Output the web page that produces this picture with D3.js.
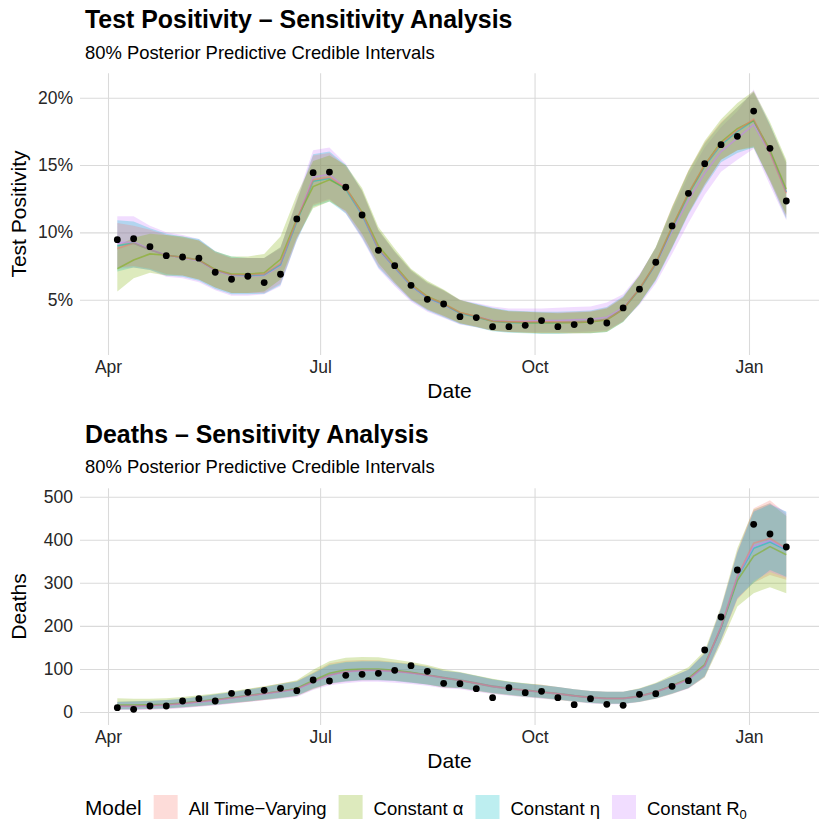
<!DOCTYPE html>
<html><head><meta charset="utf-8">
<script src="https://cdn.jsdelivr.net/npm/d3@7"></script>
<style>
body{margin:0;background:#fff;}
svg{font-family:"Liberation Sans",Arial,Helvetica,sans-serif;}
</style></head><body>
<svg id="chart" width="830" height="830"></svg>
<script>
// ---------------- DATA ----------------
const dates = ["2020-04-05","2020-04-12","2020-04-19","2020-04-26","2020-05-03","2020-05-10","2020-05-17","2020-05-24","2020-05-31","2020-06-07","2020-06-14","2020-06-21","2020-06-28","2020-07-05","2020-07-12","2020-07-19","2020-07-26","2020-08-02","2020-08-09","2020-08-16","2020-08-23","2020-08-30","2020-09-06","2020-09-13","2020-09-20","2020-09-27","2020-10-04","2020-10-11","2020-10-18","2020-10-25","2020-11-01","2020-11-08","2020-11-15","2020-11-22","2020-11-29","2020-12-06","2020-12-13","2020-12-20","2020-12-27","2021-01-03","2021-01-10","2021-01-17"];
const models = ["All Time-Varying","Constant α","Constant η","Constant R0"];
const modelColors = ["#F8766D","#7CAE00","#00BFC4","#C77CFF"];
const xTickDates = ["2020-04-01","2020-07-01","2020-10-01","2021-01-01"];
const tpTicks = [5,10,15,20];
const deathTicks = [0,100,200,300,400,500];

// Test positivity (%)
const tpObserved = [9.46,9.53,8.94,8.27,8.17,8.08,7.04,6.52,6.74,6.27,6.89,11.0,14.43,14.48,13.35,11.29,8.67,7.53,6.07,5.03,4.68,3.74,3.67,3.0,3.0,3.10,3.45,3.0,3.15,3.42,3.27,4.39,5.78,7.78,10.48,12.9,15.1,16.51,17.13,19.01,16.24,12.33];
const tpMedAll = [8.8,9.2,8.7,8.3,8.15,7.95,7.2,6.85,6.85,6.9,7.7,10.9,13.9,14.1,13.3,11.4,8.8,7.45,6.1,5.2,4.7,4.05,3.75,3.4,3.35,3.35,3.35,3.35,3.35,3.4,3.55,4.3,5.8,7.7,10.4,12.9,15.0,16.6,17.6,18.4,15.9,12.9];
const tpLoAll  = [7.4,7.5,7.3,6.9,6.8,6.5,5.9,5.5,5.5,5.5,6.2,9.5,12.0,12.4,11.5,9.7,7.5,6.2,5.0,4.25,3.75,3.25,3.0,2.7,2.6,2.55,2.5,2.5,2.5,2.55,2.65,3.4,4.75,6.5,8.9,11.4,13.5,15.4,16.1,16.4,13.8,11.1];
const tpHiAll  = [10.7,10.5,10.2,9.8,9.6,9.4,8.5,8.1,8.1,8.1,8.9,12.3,15.7,15.9,14.9,13.1,10.2,8.6,7.2,6.3,5.7,4.95,4.65,4.35,4.15,4.1,4.05,4.05,4.1,4.15,4.4,5.2,6.8,8.9,11.9,14.6,16.7,18.2,19.3,20.4,17.9,15.2];
const tpMedAlpha = [7.3,7.95,8.4,8.3,8.15,7.95,7.25,6.9,6.9,7.0,8.0,11.0,13.4,13.9,13.3,11.5,9.0,7.55,6.15,5.25,4.7,4.05,3.75,3.4,3.35,3.3,3.3,3.3,3.3,3.35,3.5,4.3,5.8,7.7,10.4,12.9,15.0,16.7,17.7,18.3,16.1,13.2];
const tpLoAlpha  = [5.6,6.6,7.0,6.8,6.8,6.5,5.9,5.5,5.5,5.6,6.5,9.6,11.8,12.3,11.6,9.9,7.7,6.3,5.05,4.3,3.8,3.25,3.0,2.7,2.6,2.55,2.5,2.5,2.5,2.5,2.6,3.35,4.7,6.5,8.9,11.4,13.6,15.4,16.1,16.3,13.9,11.3];
const tpHiAlpha  = [9.0,9.6,9.9,9.8,9.7,9.4,8.6,8.2,8.2,8.4,9.7,12.8,15.3,15.7,15.0,13.3,10.4,8.8,7.3,6.4,5.75,5.0,4.65,4.35,4.15,4.1,4.05,4.0,4.05,4.1,4.35,5.15,6.8,8.9,11.9,14.6,16.8,18.4,19.6,20.5,18.2,15.4];
const tpMedEta = [9.0,9.2,8.7,8.3,8.15,7.95,7.2,6.85,6.8,6.85,7.6,10.8,13.8,14.0,13.2,11.3,8.75,7.4,6.05,5.15,4.65,4.0,3.7,3.4,3.3,3.3,3.3,3.3,3.35,3.4,3.55,4.3,5.75,7.65,10.3,12.8,14.9,16.5,17.5,18.3,16.0,13.0];
const tpLoEta  = [7.1,7.4,7.2,6.8,6.7,6.4,5.8,5.4,5.4,5.45,6.1,9.4,11.9,12.3,11.4,9.6,7.4,6.15,4.95,4.2,3.7,3.2,2.95,2.65,2.55,2.5,2.45,2.45,2.5,2.5,2.6,3.35,4.7,6.4,8.8,11.3,13.4,15.2,15.9,16.3,13.8,11.0];
const tpHiEta  = [10.9,10.8,10.3,9.9,9.7,9.5,8.6,8.2,8.1,8.1,8.9,12.3,15.8,16.0,15.0,13.1,10.2,8.6,7.2,6.3,5.7,4.95,4.7,4.4,4.2,4.15,4.1,4.1,4.15,4.2,4.45,5.25,6.8,8.9,11.8,14.5,16.6,18.1,19.3,20.4,18.0,15.2];
const tpMedR0 = [9.2,9.3,8.75,8.3,8.1,7.9,7.15,6.8,6.75,6.8,7.5,10.9,14.1,14.3,13.3,11.3,8.7,7.35,6.0,5.1,4.6,4.0,3.75,3.45,3.4,3.4,3.45,3.45,3.5,3.55,3.7,4.4,5.8,7.6,10.1,12.4,14.4,16.0,17.0,18.0,15.9,13.0];
const tpLoR0  = [7.3,7.4,7.2,6.7,6.6,6.3,5.7,5.3,5.3,5.4,6.0,9.4,12.1,12.5,11.4,9.5,7.3,6.0,4.85,4.1,3.65,3.15,2.95,2.7,2.6,2.6,2.6,2.6,2.6,2.65,2.75,3.4,4.6,6.2,8.4,10.7,12.8,14.5,15.4,16.2,13.5,10.9];
const tpHiR0  = [11.2,11.2,10.5,10.0,9.8,9.5,8.6,8.1,8.1,8.1,8.8,12.5,16.1,16.3,15.1,13.0,10.1,8.5,7.1,6.2,5.65,5.0,4.75,4.5,4.35,4.35,4.35,4.4,4.45,4.5,4.8,5.4,6.9,8.8,11.6,14.2,16.3,17.8,19.0,20.6,18.0,15.0];

// Deaths
const deathObserved = [10.1,6.2,13.9,13.9,25.5,31.0,25.5,43.4,45.7,50.3,55.0,49.5,74.3,72.0,85.2,87.5,89.8,96.8,107.6,94.4,66.6,65.8,54.2,33.3,56.5,44.9,48.0,33.3,17.0,31.0,17.8,15.5,41.0,42.6,59.6,72.8,144,220.6,329.8,435.8,413.4,383.2];
const dMedAll = [14,14,15,17,20,24,28,33,38,43,48,54,70,86,94,97,97,95,91,86,80,74,67,60,55,51,47,43,38,34,32,32,37,47,61,76,108,198,315,392,403,380];
const dLoAll  = [5,5,6,7,10,13,16,20,24,28,33,37,54,65,70,73,74,72,68,64,57,56,50,44,40,36,33,29,25,21,19,19,24,32,43,55,82,167,262,300,318,307];
const dHiAll  = [24,25,26,28,31,36,41,46,53,59,66,72,92,113,119,121,120,116,112,106,96,92,84,76,70,66,63,58,53,49,47,47,54,66,82,98,137,241,372,473,492,460];
const dMedAlpha = [16,16,17,18,21,25,29,33,38,43,48,55,73,90,98,100,100,97,92,86,79,73,66,59,54,50,46,42,37,33,31,31,36,46,61,78,110,195,305,362,384,365];
const dLoAlpha  = [7,7,8,9,11,14,17,21,24,28,32,37,53,66,72,75,75,73,69,64,57,55,49,43,39,35,32,28,24,21,19,19,23,31,42,55,80,159,245,276,290,276];
const dHiAlpha  = [32,31,31,32,35,39,43,48,54,60,66,74,98,118,126,128,127,122,116,109,99,93,85,77,71,67,63,58,53,49,47,47,55,68,86,104,142,245,380,470,485,455];
const dMedEta = [14,14,15,17,20,24,28,33,38,43,48,54,70,86,94,97,97,95,91,86,80,74,67,60,55,51,47,43,38,34,32,32,37,47,61,76,107,196,312,380,395,376];
const dLoEta  = [6,6,7,8,11,14,17,21,25,29,33,38,55,66,71,74,74,72,68,64,58,56,50,44,40,36,33,29,25,21,19,19,24,32,43,56,83,168,265,300,330,314];
const dHiEta  = [24,25,26,28,31,36,41,46,52,58,65,71,90,110,116,118,118,115,111,105,96,92,84,76,70,66,62,58,53,49,47,47,54,66,82,98,136,240,370,465,482,465];
const dMedR0 = [13,13,14,16,19,23,27,32,37,42,47,53,69,85,93,96,96,94,90,85,79,73,66,59,54,50,46,42,37,33,31,31,36,46,60,75,106,197,314,385,398,378];
const dLoR0  = [5,5,6,7,9,12,15,19,23,27,31,35,51,62,67,70,70,68,65,61,55,53,47,42,38,34,31,28,24,20,18,18,23,31,42,54,81,166,262,305,325,312];
const dHiR0  = [23,24,25,27,30,35,40,45,51,57,64,70,89,108,115,117,117,114,110,104,95,91,83,75,69,65,62,58,53,49,47,47,54,66,82,98,136,242,372,468,485,465];

// ---------------- BUILD ----------------
const parse = d3.utcParse("%Y-%m-%d");
const dateObjs = dates.map(parse);
const tickDateObjs = xTickDates.map(parse);

const tpBands = [
  {med: tpMedAll, lo: tpLoAll, hi: tpHiAll},
  {med: tpMedAlpha, lo: tpLoAlpha, hi: tpHiAlpha},
  {med: tpMedEta, lo: tpLoEta, hi: tpHiEta},
  {med: tpMedR0, lo: tpLoR0, hi: tpHiR0}
];
const dBands = [
  {med: dMedAll, lo: dLoAll, hi: dHiAll},
  {med: dMedAlpha, lo: dLoAlpha, hi: dHiAlpha},
  {med: dMedEta, lo: dLoEta, hi: dHiEta},
  {med: dMedR0, lo: dLoR0, hi: dHiR0}
];

const svg = d3.select("#chart");
const panelLeft = 80, panelRight = 819;
const x = d3.scaleUtc().domain([tickDateObjs[0], tickDateObjs[3]]).range([108, 749]);

const FILL_ALPHA = 0.26;
const gridColor = "#DADADA";
const tickColor = "#262626";

const panels = [
  {
    title: "Test Positivity \u2013 Sensitivity Analysis",
    titleY: 27.5, subY: 58.5,
    top: 73.3, bottom: 355,
    y: d3.scaleLinear().domain([5, 20]).range([299.7, 97.7]),
    yTicks: tpTicks, fmt: d => d + "%",
    yTitle: "Test Positivity", yTitleY: 214,
    xTitleY: 398,
    obs: tpObserved, bands: tpBands,
    order: [3, 2, 0, 1],
    lineOrder: [3, 2, 1, 0]
  },
  {
    title: "Deaths \u2013 Sensitivity Analysis",
    titleY: 443.3, subY: 472.7,
    top: 488.3, bottom: 725,
    y: d3.scaleLinear().domain([0, 500]).range([712, 496.7]),
    yTicks: deathTicks, fmt: d => String(d),
    yTitle: "Deaths", yTitleY: 606.5,
    xTitleY: 768,
    obs: deathObserved, bands: dBands,
    order: [0, 1, 3, 2],
    lineOrder: [1, 2, 3, 0]
  }
];

panels.forEach(p => {
  const g = svg.append("g");
  // titles
  g.append("text").attr("x", 85).attr("y", p.titleY)
    .attr("font-size", 24.9).attr("font-weight", "bold").attr("fill", "#000").text(p.title);
  g.append("text").attr("x", 85).attr("y", p.subY)
    .attr("font-size", 18.4).attr("fill", "#000").text("80% Posterior Predictive Credible Intervals");

  // y axis with gridlines
  const yAxis = d3.axisLeft(p.y).tickValues(p.yTicks).tickFormat(p.fmt)
    .tickSize(-(panelRight - panelLeft)).tickPadding(7);
  const ya = g.append("g").attr("transform", `translate(${panelLeft},0)`).call(yAxis);
  ya.select(".domain").remove();
  ya.selectAll("line").attr("stroke", gridColor).attr("stroke-width", 1.07);
  ya.selectAll("text").attr("font-size", 17.5).attr("fill", tickColor)
    .attr("font-family", "Liberation Sans, Arial, sans-serif");

  // x axis with gridlines
  const xAxis = d3.axisBottom(x).tickValues(tickDateObjs).tickFormat(d3.utcFormat("%b"))
    .tickSize(-(p.bottom - p.top)).tickPadding(6);
  const xa = g.append("g").attr("transform", `translate(0,${p.bottom})`).call(xAxis);
  xa.select(".domain").remove();
  xa.selectAll("line").attr("stroke", gridColor).attr("stroke-width", 1.07);
  xa.selectAll("text").attr("font-size", 17.5).attr("fill", tickColor)
    .attr("font-family", "Liberation Sans, Arial, sans-serif");

  // axis titles
  g.append("text").attr("x", (panelLeft + panelRight) / 2).attr("y", p.xTitleY)
    .attr("text-anchor", "middle").attr("font-size", 21).attr("fill", "#000").text("Date");
  g.append("text").attr("transform", `translate(26,${p.yTitleY}) rotate(-90)`)
    .attr("text-anchor", "middle").attr("font-size", 21).attr("fill", "#000").text(p.yTitle);

  // ribbons
  const area = d3.area()
    .x((d, i) => x(dateObjs[i]))
    .y0(d => p.y(d[0]))
    .y1(d => p.y(d[1]));
  const line = d3.line()
    .x((d, i) => x(dateObjs[i]))
    .y(d => p.y(d));
  p.order.forEach(m => {
    const b = p.bands[m];
    const pts = b.lo.map((v, i) => [v, b.hi[i]]);
    g.append("path").attr("d", area(pts))
      .attr("fill", modelColors[m]).attr("fill-opacity", FILL_ALPHA).attr("stroke", "none");
  });
  p.lineOrder.forEach(m => {
    const b = p.bands[m];
    g.append("path").attr("d", line(b.med))
      .attr("fill", "none").attr("stroke", modelColors[m]).attr("stroke-opacity", 0.5)
      .attr("stroke-width", 1.6);
  });
  // observed points
  g.append("g").selectAll("circle").data(p.obs).join("circle")
    .attr("cx", (d, i) => x(dateObjs[i]))
    .attr("cy", d => p.y(d))
    .attr("r", 3.4).attr("fill", "#000");
});

// legend
const lg = svg.append("g");
const legendBase = 815;
let lx = 85;
const lt = lg.append("text").attr("x", lx).attr("y", legendBase).attr("font-size", 20.8).attr("fill", "#000").text("Model");
lx += lt.node().getComputedTextLength() + 12;
models.forEach((m, i) => {
  lg.append("rect").attr("x", lx).attr("y", 795).attr("width", 24).attr("height", 24)
    .attr("fill", modelColors[i]).attr("fill-opacity", FILL_ALPHA);
  lx += 24 + 11;
  const t = lg.append("text").attr("x", lx).attr("y", legendBase).attr("font-size", 18.5).attr("fill", "#000");
  if (m === "Constant R0") {
    t.append("tspan").text("Constant R");
    t.append("tspan").attr("font-size", 13).attr("dy", 4).text("0");
  } else if (m === "All Time-Varying") {
    t.text("All Time\u2212Varying");
  } else {
    t.text(m);
  }
  lx += t.node().getComputedTextLength() + 12;
});
</script>
</body></html>
